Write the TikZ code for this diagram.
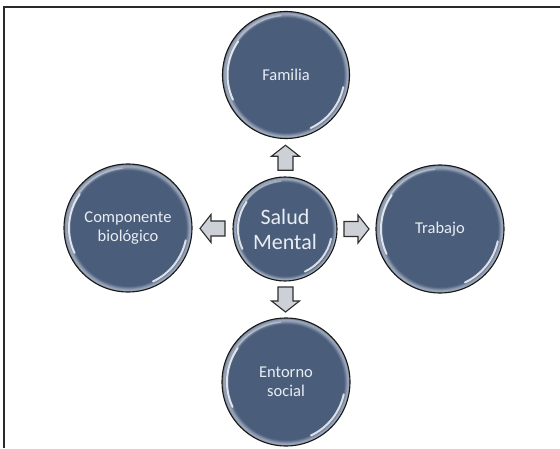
\documentclass[tikz,border=0pt]{standalone}
\usepackage{fontspec}
\setmainfont{Carlito}
\usetikzlibrary{calc}
\definecolor{cmain}{HTML}{4A5D7B}
\definecolor{crim}{HTML}{A2AEC0}
\definecolor{crimd}{HTML}{6E7D95}
\definecolor{textc}{HTML}{E9EDF2}
\definecolor{arrowc}{HTML}{CDD0D6}
\definecolor{arrowd}{HTML}{2E2E2E}
\definecolor{framec}{HTML}{2A2A2A}
\pgfdeclareradialshading{glossy}{\pgfpoint{0bp}{0bp}}{color(0bp)=(cmain); color(22.6bp)=(cmain); color(24.2bp)=(crim); color(25bp)=(crimd); color(50bp)=(crimd)}
\tikzset{
  bubble/.style={circle, draw=black!90, line width=1.1pt, shade, shading=glossy,
    minimum size=#1, inner sep=0pt, align=center, text=textc,
    font=\fontsize{16.5}{19}\selectfont,
    path picture={
      \path let \p1=(path picture bounding box.east), \p2=(path picture bounding box.center),
        \n1={\x1-\x2-5pt} in
        [gloss] ($(\p2)+(145:\n1)$) arc[start angle=145, end angle=205, radius=\n1]
        [gloss] ($(\p2)+(-65:\n1)$) arc[start angle=-65, end angle=-12, radius=\n1];
      \path let \p1=(path picture bounding box.east), \p2=(path picture bounding box.center),
        \n1={\x1-\x2-4pt} in
        [softgloss] ($(\p2)+(95:\n1)$) arc[start angle=95, end angle=145, radius=\n1];
    }},
  gloss/.style={draw=white, draw opacity=0.8, line width=2pt, line cap=round},
  softgloss/.style={draw=white, draw opacity=0.35, line width=1.4pt, line cap=round},
  arrowshape/.style={fill=arrowc, draw=arrowd, line width=1.1pt, line join=miter},
  barrow/.pic={\path[arrowshape] (-12.5pt,-7.5pt) -- (1.5pt,-7.5pt) -- (1.5pt,-14pt) -- (12.5pt,0pt) -- (1.5pt,14pt) -- (1.5pt,7.5pt) -- (-12.5pt,7.5pt) -- cycle;},
  framestyle/.style={draw=framec, line width=1.4pt}
}
\begin{document}
\begin{tikzpicture}[x=1pt,y=1pt]
\useasboundingbox (0,0) rectangle (560,448);
\draw[framestyle] (4,0) -- (4,441) -- (560,441);
\node[bubble=104pt, font=\fontsize{22}{25}\selectfont] (sm) at (285,219) {Salud\\Mental};
\node[bubble=127pt] (fa) at (286,373) {Familia};
\node[bubble=128pt] (tr) at (440,219) {Trabajo};
\node[bubble=128pt] (es) at (286,66) {Entorno\\social};
\node[bubble=128pt] (cb) at (128,220) {Componente\\biológico};
\pic[rotate=90] at ($(sm.north)!0.5!(fa.south)$) {barrow};
\pic[rotate=0] at ($(sm.east)!0.5!(tr.west)$) {barrow};
\pic[rotate=-90] at ($(sm.south)!0.5!(es.north)$) {barrow};
\pic[rotate=180] at ($(sm.west)!0.5!(cb.east)$) {barrow};
\end{tikzpicture}
\end{document}
